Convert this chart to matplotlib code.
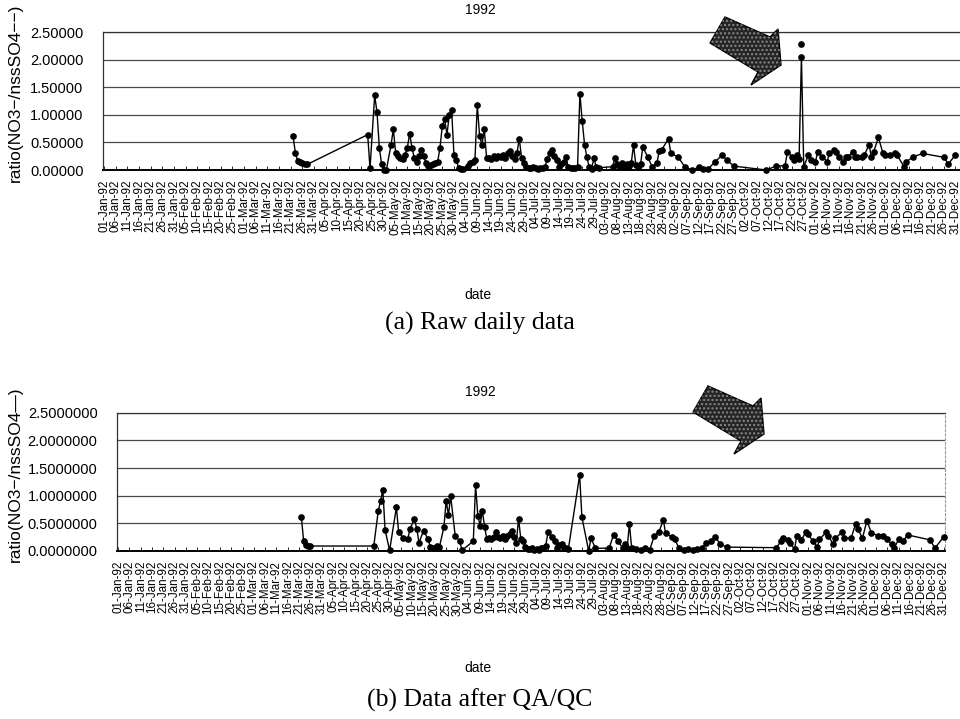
import datetime as dt
import matplotlib
matplotlib.use("Agg")
import matplotlib.pyplot as plt
from matplotlib.patches import Polygon

# ---------------- data ----------------
year_title = "1992"
tick_days = list(range(1, 367, 5))
tick_labels = [(dt.date(1992, 1, 1) + dt.timedelta(days=d - 1)).strftime("%d-%b-%y") for d in tick_days]

a_days = [82, 83, 84, 85, 86, 87, 88, 114, 115, 117, 118, 119, 120, 121, 122, 124, 125, 126, 127, 128,
          129, 130, 131, 132, 133, 134, 135, 136, 137, 138, 139, 140, 141, 142, 143, 144, 145, 146, 147, 148,
          149, 150, 151, 152, 153, 154, 155, 157, 158, 159, 160, 161, 162, 163, 164, 165, 166, 167, 168, 169,
          170, 171, 172, 173, 174, 175, 176, 177, 178, 179, 180, 181, 182, 183, 184, 185, 186, 187, 188, 189,
          190, 191, 192, 193, 194, 195, 196, 197, 198, 199, 200, 201, 202, 203, 204, 205, 206, 207, 208, 209,
          210, 211, 212, 213, 219, 220, 221, 222, 223, 224, 225, 226, 227, 228, 229, 230, 231, 232, 234, 236,
          238, 239, 240, 243, 244, 247, 250, 253, 256, 258, 260, 263, 266, 268, 271, 285, 289, 293, 294, 296,
          297, 298, 299, 300, 301, 303, 304, 306, 307, 309, 311, 312, 314, 315, 316, 318, 319, 320, 322, 323,
          324, 326, 327, 329, 330, 331, 333, 335, 336, 338, 340, 341, 344, 345, 348, 352, 361, 363, 366]
a_vals = [0.61, 0.31, 0.16, 0.14, 0.12, 0.11, 0.10, 0.64, 0.03, 1.35, 1.05, 0.40, 0.10, 0.00, 0.00, 0.45, 0.74, 0.31, 0.25, 0.21,
          0.20, 0.28, 0.40, 0.66, 0.40, 0.22, 0.15, 0.25, 0.36, 0.25, 0.12, 0.08, 0.09, 0.11, 0.12, 0.15, 0.40, 0.80, 0.92, 0.64,
          1.00, 1.08, 0.28, 0.18, 0.04, 0.02, 0.02, 0.08, 0.12, 0.15, 0.18, 1.18, 0.61, 0.46, 0.74, 0.21, 0.22, 0.20, 0.25, 0.22,
          0.26, 0.24, 0.28, 0.22, 0.30, 0.34, 0.25, 0.20, 0.30, 0.57, 0.22, 0.12, 0.06, 0.04, 0.03, 0.05, 0.03, 0.02, 0.04, 0.03,
          0.05, 0.20, 0.31, 0.37, 0.25, 0.18, 0.06, 0.10, 0.15, 0.23, 0.05, 0.03, 0.03, 0.03, 0.05, 1.38, 0.89, 0.46, 0.23, 0.05,
          0.02, 0.21, 0.06, 0.04, 0.06, 0.21, 0.10, 0.08, 0.12, 0.06, 0.10, 0.08, 0.12, 0.45, 0.09, 0.07, 0.10, 0.42, 0.24, 0.06,
          0.12, 0.34, 0.36, 0.57, 0.30, 0.24, 0.06, 0.00, 0.05, 0.01, 0.02, 0.15, 0.27, 0.18, 0.07, 0.00, 0.07, 0.08, 0.33, 0.24,
          0.18, 0.27, 0.20, 2.05, 0.06, 0.27, 0.18, 0.15, 0.33, 0.24, 0.15, 0.30, 0.36, 0.33, 0.24, 0.15, 0.24, 0.24, 0.33, 0.24,
          0.24, 0.24, 0.27, 0.46, 0.24, 0.33, 0.59, 0.30, 0.28, 0.27, 0.30, 0.27, 0.06, 0.15, 0.24, 0.30, 0.23, 0.11, 0.27]
a_outlier_day = [300]
a_outlier_val = [2.28]

b_days = [82, 83, 84, 85, 86, 114, 116, 117, 118, 119, 121, 124, 125, 127, 129, 130, 132, 133, 134, 136,
          138, 139, 140, 141, 142, 143, 145, 146, 147, 148, 150, 152, 153, 158, 159, 160, 161, 162, 163, 164,
          165, 166, 167, 168, 169, 170, 171, 172, 173, 174, 175, 176, 177, 178, 179, 180, 181, 182, 183, 184,
          185, 186, 187, 188, 189, 190, 191, 193, 194, 195, 196, 197, 198, 199, 200, 205, 206, 209, 210, 212,
          218, 220, 222, 224, 225, 226, 227, 228, 230, 232, 234, 236, 238, 240, 242, 243, 246, 247, 249, 251,
          253, 255, 257, 259, 261, 263, 265, 267, 270, 292, 294, 295, 297, 298, 300, 301, 303, 305, 306, 308,
          310, 311, 314, 315, 317, 318, 321, 322, 325, 327, 328, 330, 332, 334, 337, 339, 341, 343, 344, 346,
          348, 350, 360, 362, 366]
b_vals = [0.61, 0.18, 0.10, 0.09, 0.09, 0.09, 0.73, 0.90, 1.11, 0.38, 0.01, 0.79, 0.34, 0.24, 0.21, 0.40, 0.58, 0.40, 0.15, 0.37,
          0.21, 0.08, 0.05, 0.06, 0.09, 0.07, 0.43, 0.91, 0.65, 0.99, 0.27, 0.18, 0.01, 0.18, 1.19, 0.64, 0.46, 0.73, 0.43, 0.21,
          0.24, 0.22, 0.25, 0.34, 0.25, 0.24, 0.27, 0.22, 0.27, 0.30, 0.37, 0.25, 0.15, 0.58, 0.22, 0.18, 0.07, 0.04, 0.03, 0.05,
          0.02, 0.04, 0.02, 0.05, 0.06, 0.09, 0.34, 0.25, 0.18, 0.06, 0.10, 0.12, 0.05, 0.06, 0.03, 1.37, 0.61, 0.00, 0.23, 0.05,
          0.05, 0.29, 0.18, 0.05, 0.12, 0.05, 0.49, 0.05, 0.03, 0.02, 0.05, 0.02, 0.28, 0.34, 0.56, 0.32, 0.25, 0.21, 0.05, 0.02,
          0.04, 0.02, 0.03, 0.05, 0.15, 0.18, 0.26, 0.13, 0.07, 0.06, 0.18, 0.23, 0.20, 0.15, 0.03, 0.28, 0.20, 0.34, 0.31, 0.18,
          0.07, 0.21, 0.34, 0.28, 0.12, 0.23, 0.34, 0.23, 0.23, 0.49, 0.40, 0.23, 0.55, 0.32, 0.28, 0.28, 0.21, 0.12, 0.05, 0.21,
          0.18, 0.29, 0.20, 0.05, 0.26]

y_ticks = [0.0, 0.5, 1.0, 1.5, 2.0, 2.5]
a_ylabel = "ratio(NO3\u2212/nssSO4\u2212\u2212)"
b_ylabel = "ratio(NO3\u2212/nssSO4\u2014)"
a_caption = "(a) Raw daily data"
b_caption = "(b) Data after QA/QC"

# ---------------- figure ----------------
W, H = 960, 719
fig = plt.figure(figsize=(W / 100, H / 100), dpi=100)
plt.rcParams["font.family"] = ["Liberation Sans", "DejaVu Sans"]


def fx(px):
    return px / W


def fy(py):
    return 1 - py / H


def panel(left, right, top, bottom, xmax, days, vals, fmt, ylabel, title_y, ylabel_x,
          date_y, cap_y, caption, right_spine):
    ax = fig.add_axes([fx(left), fy(bottom), fx(right - left), fy(top) - fy(bottom)])
    ax.set_xlim(0.5, xmax)
    ax.set_ylim(0, 2.5)
    for v in y_ticks[1:]:
        ax.axhline(v, color="#4a4a4a", lw=0.9, zorder=1)
    ax.plot(days, vals, color="black", lw=1.0, marker="o", ms=3.8, zorder=3, clip_on=False)
    ax.set_yticks(y_ticks)
    ax.set_yticklabels([fmt.format(v) for v in y_ticks], fontsize=10.5)
    ax.tick_params(axis="y", length=0, pad=14)
    ax.set_xticks(tick_days)
    ax.set_xticklabels(tick_labels, rotation=90, fontsize=8.4, va="top", ha="center")
    ax.tick_params(axis="x", direction="in", length=3, width=0.6, pad=7)
    for s in ["top", "left"]:
        ax.spines[s].set_color("#333333")
        ax.spines[s].set_linewidth(0.9)
    ax.spines["bottom"].set_linewidth(1.4)
    ax.spines["right"].set_visible(right_spine)
    ax.spines["right"].set_color("#999999")
    ax.spines["right"].set_linestyle((0, (2, 2)))
    fig.text(fx(480), fy(title_y), year_title, ha="center", va="center", fontsize=10)
    fig.text(fx(ylabel_x), fy((top + bottom) / 2 - 8), ylabel, rotation=90, ha="center", va="center",
             fontsize=12.5)
    fig.text(fx(478), fy(date_y), "date", ha="center", va="center", fontsize=10)
    fig.text(fx(480), fy(cap_y), caption, ha="center", va="center", fontsize=18.5,
             family=["Liberation Serif", "DejaVu Serif"])
    return ax


ax_a = panel(103, 960, 32, 170, 368, a_days, a_vals, "{:.5f}", a_ylabel, 10, 15, 295, 323, a_caption, False)
ax_a.plot(a_outlier_day, a_outlier_val, "o", color="black", ms=3.8, zorder=3)

ax_b = panel(117, 945, 412.7, 551, 366.5, b_days, b_vals, "{:.7f}", b_ylabel, 392, 15, 668, 700, b_caption, True)

# block arrows (annotation)
arrow_shape = [(725, 17), (770, 37), (778, 29), (781, 65), (751, 85), (758, 72), (710, 43)]
arrow_offsets = [(0, 0), (-17, 369)]
for ox, oy in arrow_offsets:
    pts = [(fx(x + ox), fy(y + oy)) for x, y in arrow_shape]
    fig.patches.append(Polygon(pts, closed=True, transform=fig.transFigure, facecolor="#262626",
                               edgecolor="black", lw=1.0, zorder=10))
    fig.patches.append(Polygon(pts, closed=True, transform=fig.transFigure, facecolor="none",
                               edgecolor="#8a8a8a", hatch="....", lw=0, zorder=11))

fig.savefig("out.png", dpi=100)
